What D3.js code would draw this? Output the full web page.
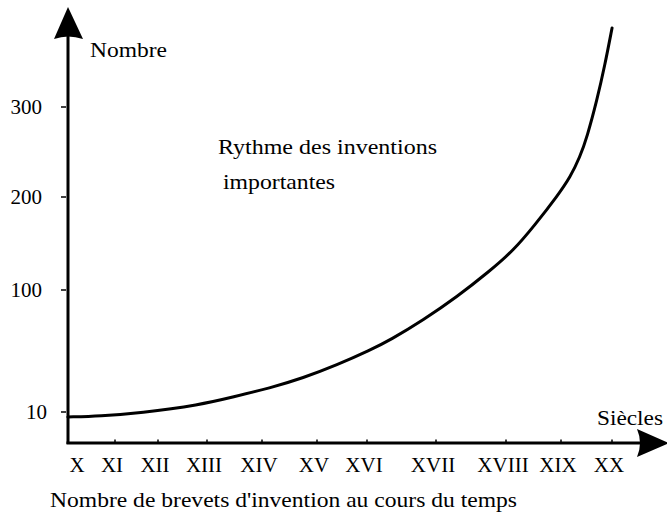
<!DOCTYPE html>
<html>
<head>
<meta charset="utf-8">
<script src="https://cdn.jsdelivr.net/npm/d3@7"></script>
<style>
  html, body { margin: 0; padding: 0; background: #fff; }
  svg { display: block; }
</style>
</head>
<body>
<svg id="chart" width="667" height="520"></svg>
<script>
// ---- Data ----
const centuryLabels = ["X", "XI", "XII", "XIII", "XIV", "XV", "XVI", "XVII", "XVIII", "XIX", "XX"];
const centuryNums   = [10, 11, 12, 13, 14, 15, 16, 17, 18, 19, 20];
const yTickValues   = [10, 100, 200, 300];
const curveCentury  = [9.74, 10.66, 11.65, 12.92, 13.53, 14.2, 14.8, 15.46, 16.09, 16.38, 16.86, 17.34, 17.81, 18.18, 18.58, 19.0, 19.24, 19.43, 19.57, 19.76, 19.92, 20.06];
const curveValue    = [6.3, 7.0, 9.3, 15.2, 21.1, 27.7, 35.1, 44.7, 55.7, 63.1, 77.9, 94.8, 120.4, 141.9, 169.9, 202.2, 222.2, 244.4, 266.7, 306.7, 346.7, 387.8];

// ---- Layout ----
const FONT = "'Times New Roman', 'Liberation Serif', Times, serif";
const svg = d3.select("#chart");
const axisX0 = 68, axisY0 = 443;

// Hand-drawn (irregular) axes: piecewise linear scales
const x = d3.scaleLinear()
  .domain(centuryNums)
  .range([77, 112, 155, 204, 259, 314, 364, 433, 503, 558, 609]);
const y = d3.scaleLinear()
  .domain(yTickValues)
  .range([412, 290, 197, 107]);

svg.append("rect").attr("width", 667).attr("height", 520).attr("fill", "#fff");

// Y axis line + arrow
svg.append("line")
  .attr("x1", axisX0).attr("y1", axisY0 + 1)
  .attr("x2", axisX0).attr("y2", 36)
  .attr("stroke", "#000").attr("stroke-width", 3);
svg.append("path")
  .attr("d", `M${axisX0},7 L${axisX0 + 15},39 Q${axisX0},34 ${axisX0 - 14},39 Z`)
  .attr("fill", "#000");

// X axis line + arrow
svg.append("line")
  .attr("x1", axisX0 - 1.5).attr("y1", axisY0)
  .attr("x2", 640).attr("y2", axisY0)
  .attr("stroke", "#000").attr("stroke-width", 3);
svg.append("path")
  .attr("d", `M669,${axisY0} L637,${axisY0 - 14} Q643,${axisY0} 637,${axisY0 + 14} Z`)
  .attr("fill", "#000");

// Y ticks (small dashes) and labels
const yt = svg.append("g");
yt.selectAll("line").data(yTickValues).join("line")
  .attr("x1", 61).attr("x2", 66)
  .attr("y1", d => y(d)).attr("y2", d => y(d))
  .attr("stroke", "#000").attr("stroke-width", 1.5);
yt.selectAll("text").data(yTickValues).join("text")
  .attr("x", d => d === 10 ? 47 : 42)
  .attr("y", d => y(d) + 6.5)
  .attr("text-anchor", "end")
  .attr("font-family", FONT)
  .attr("font-size", 21)
  .text(d => d);

// X ticks (small bumps) and labels
const xt = svg.append("g");
xt.selectAll("line").data(centuryNums.slice(1)).join("line")
  .attr("x1", d => x(d) + 3).attr("x2", d => x(d) + 3)
  .attr("y1", axisY0).attr("y2", axisY0 - 3.5)
  .attr("stroke", "#000").attr("stroke-width", 1.5);
xt.selectAll("text").data(centuryNums).join("text")
  .attr("x", d => x(d))
  .attr("y", 472)
  .attr("text-anchor", "middle")
  .attr("font-family", FONT)
  .attr("font-size", 21)
  .text((d, i) => centuryLabels[i]);

// Curve
const pts = curveCentury.map((c, i) => [c, curveValue[i]]);
svg.append("path")
  .datum(pts)
  .attr("d", d3.line().x(d => x(d[0])).y(d => y(d[1])).curve(d3.curveBasis))
  .attr("fill", "none")
  .attr("stroke", "#000")
  .attr("stroke-width", 3)
  .attr("stroke-linecap", "round");

// Texts
function label(txt, px, py, len) {
  svg.append("text").attr("x", px).attr("y", py)
    .attr("font-family", FONT).attr("font-size", 21)
    .attr("textLength", len).attr("lengthAdjust", "spacingAndGlyphs")
    .text(txt);
}
label("Nombre", 90, 57, 77);
label("Siècles", 597, 425, 66);
label("Rythme des inventions", 218, 154, 219);
label("importantes", 223, 189, 112);
label("Nombre de brevets d'invention au cours du temps", 50, 507, 467);
</script>
</body>
</html>
